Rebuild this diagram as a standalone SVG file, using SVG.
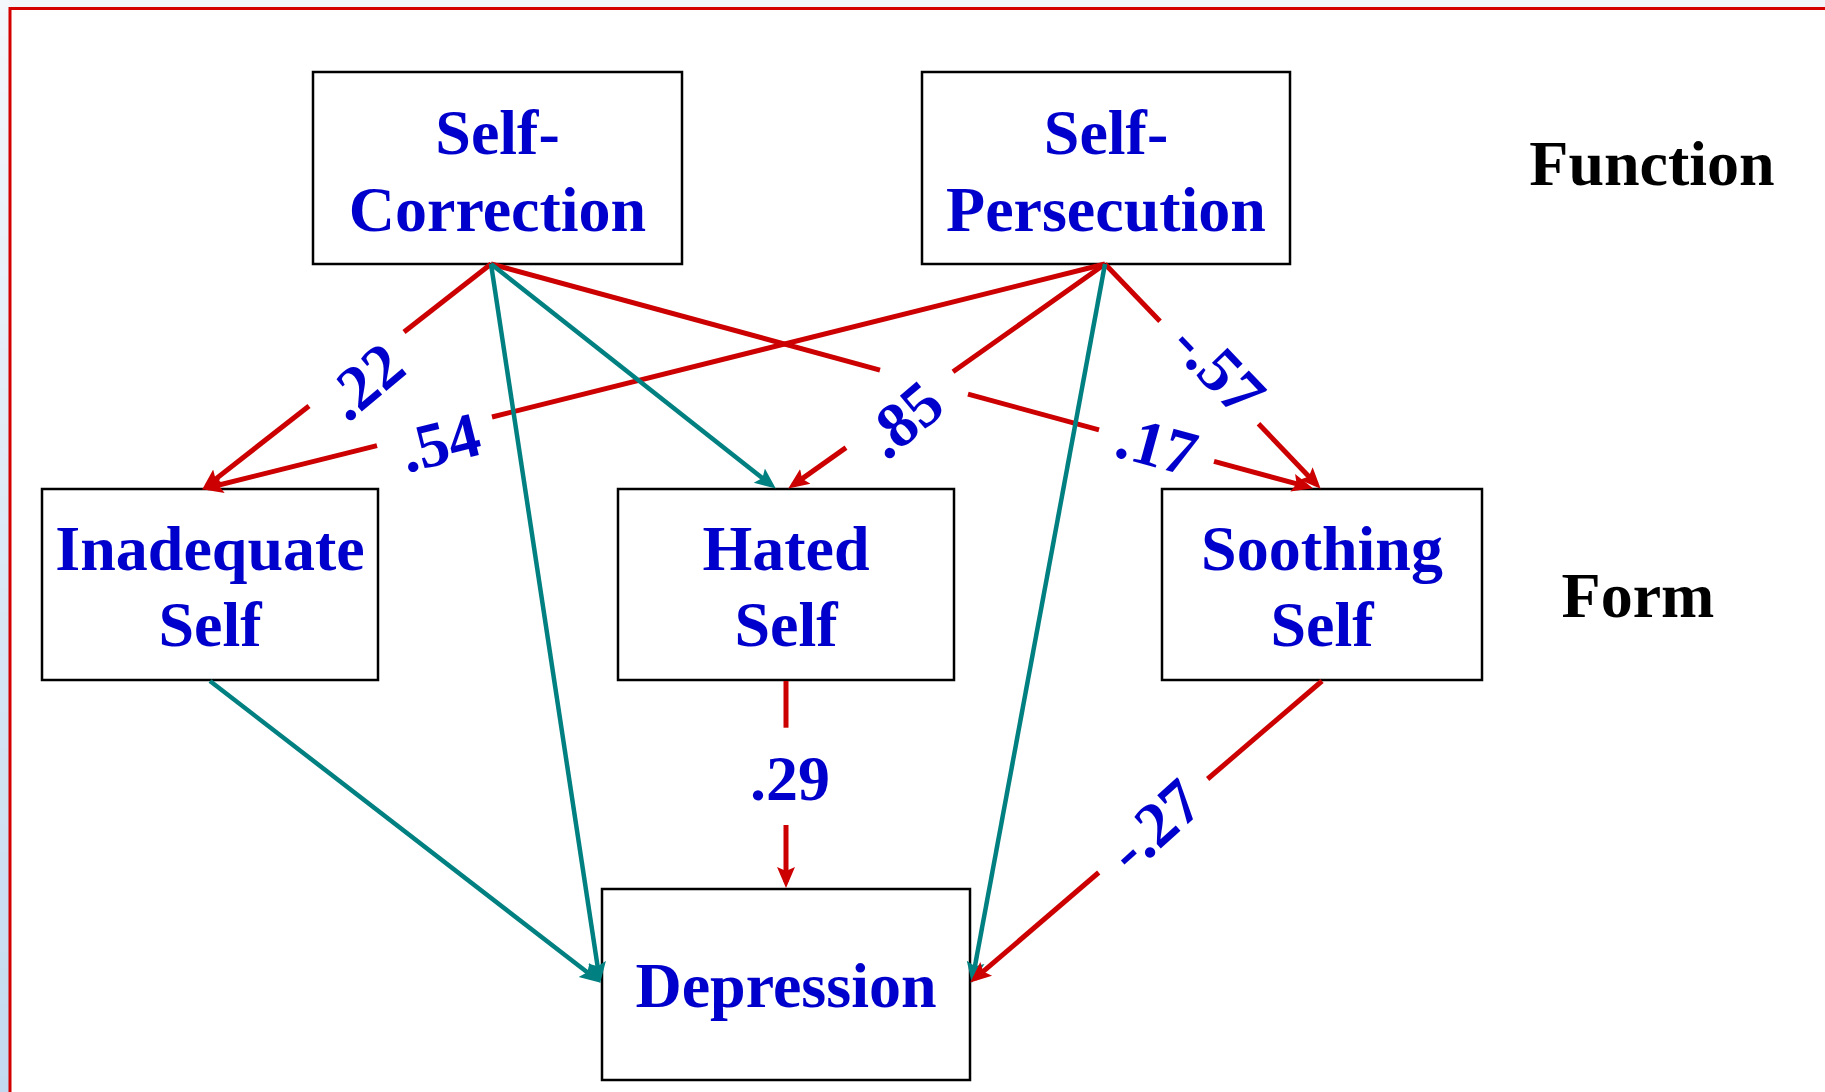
<svg xmlns="http://www.w3.org/2000/svg" width="1825" height="1092" viewBox="0 0 1825 1092">
  <defs>
    <linearGradient id="leftbg" x1="0" y1="0" x2="0" y2="1">
      <stop offset="0" stop-color="#f4f7fb"/>
      <stop offset="1" stop-color="#c3d9ef"/>
    </linearGradient>
    <marker id="arrRed" markerUnits="userSpaceOnUse" markerWidth="24" markerHeight="20" refX="15" refY="9" orient="auto" viewBox="0 0 24 18">
      <path d="M0,0 L21,9 L0,18 L4,9 z" fill="#cc0000"/>
    </marker>
    <marker id="arrTeal" markerUnits="userSpaceOnUse" markerWidth="24" markerHeight="20" refX="15" refY="9" orient="auto" viewBox="0 0 24 18">
      <path d="M0,0 L21,9 L0,18 L4,9 z" fill="#008080"/>
    </marker>
    <style>
      .box { fill: #ffffff; stroke: #000000; stroke-width: 2.5; }
      .nt { font-family: "Liberation Serif", "Times New Roman", serif; font-weight: bold; font-size: 64px; fill: #0000cc; text-anchor: middle; }
      .side { font-family: "Liberation Serif", "Times New Roman", serif; font-weight: bold; font-size: 64px; fill: #000000; text-anchor: middle; }
      .lbl { font-family: "Liberation Serif", "Times New Roman", serif; font-weight: bold; font-size: 64px; fill: #0000cc; text-anchor: middle; }
      .red { stroke: #cc0000; stroke-width: 5; fill: none; }
      .teal { stroke: #008080; stroke-width: 4.5; fill: none; }
    </style>
  </defs>

  <!-- background and frame -->
  <rect x="0" y="0" width="1825" height="1092" fill="#ffffff"/>
  <rect x="0" y="0" width="1825" height="8" fill="#f2f6fa"/>
  <rect x="0" y="0" width="9" height="1092" fill="url(#leftbg)"/>
  <rect x="10" y="8.5" width="1830" height="1100" fill="none" stroke="#d40000" stroke-width="3"/>

  <!-- nodes -->
  <g id="self-correction">
    <rect class="box" x="313" y="72" width="369" height="192"/>
    <text class="nt" x="497.5" y="154">Self-</text>
    <text class="nt" x="497.5" y="231">Correction</text>
  </g>
  <g id="self-persecution">
    <rect class="box" x="922" y="72" width="368" height="192"/>
    <text class="nt" x="1106" y="154">Self-</text>
    <text class="nt" x="1106" y="231">Persecution</text>
  </g>
  <g id="inadequate-self">
    <rect class="box" x="42" y="489" width="336" height="191"/>
    <text class="nt" x="210" y="570">Inadequate</text>
    <text class="nt" x="210" y="646">Self</text>
  </g>
  <g id="hated-self">
    <rect class="box" x="618" y="489" width="336" height="191"/>
    <text class="nt" x="786" y="570">Hated</text>
    <text class="nt" x="786" y="646">Self</text>
  </g>
  <g id="soothing-self">
    <rect class="box" x="1162" y="489" width="320" height="191"/>
    <text class="nt" x="1322" y="570">Soothing</text>
    <text class="nt" x="1322" y="646">Self</text>
  </g>
  <g id="depression">
    <rect class="box" x="602" y="889" width="368" height="191"/>
    <text class="nt" x="786" y="1007">Depression</text>
  </g>
  <g id="function-label">
    <text class="side" x="1652" y="185">Function</text>
  </g>
  <g id="form-label">
    <text class="side" x="1638" y="617">Form</text>
  </g>

  <!-- connectors -->
  <g id="connectors">
    <!-- Self-Correction -> Inadequate Self (.22) -->
    <line class="red" x1="491" y1="264" x2="404" y2="332"/>
    <line class="red" x1="309" y1="406" x2="206.9" y2="485.9" marker-end="url(#arrRed)"/>
    <!-- Self-Persecution -> Inadequate Self (.54) -->
    <line class="red" x1="1105" y1="264" x2="492" y2="417"/>
    <line class="red" x1="377" y1="445.6" x2="207.9" y2="487.8" marker-end="url(#arrRed)"/>
    <!-- Self-Persecution -> Hated Self (.85) -->
    <line class="red" x1="1105" y1="264" x2="953" y2="371.8"/>
    <line class="red" x1="846" y1="447.6" x2="793.1" y2="485.1" marker-end="url(#arrRed)"/>
    <!-- Self-Correction -> Soothing Self (.17) -->
    <line class="red" x1="491" y1="264" x2="880" y2="370.1"/>
    <line class="red" x1="968" y1="394.1" x2="1099" y2="429.9"/>
    <line class="red" x1="1214" y1="461.3" x2="1307.2" y2="486.7" marker-end="url(#arrRed)"/>
    <!-- Self-Persecution -> Soothing Self (-.57) -->
    <line class="red" x1="1105" y1="264" x2="1160" y2="321.3"/>
    <line class="red" x1="1258.5" y1="423.8" x2="1316.5" y2="484.4" marker-end="url(#arrRed)"/>
    <!-- teal paths -->
    <line class="teal" x1="491" y1="264" x2="599.25" y2="977.1" marker-end="url(#arrTeal)"/>
    <line class="teal" x1="491" y1="264" x2="771.1" y2="484.9" marker-end="url(#arrTeal)"/>
    <line class="teal" x1="1105" y1="264" x2="972.9" y2="977.1" marker-end="url(#arrTeal)"/>
    <line class="teal" x1="210" y1="681" x2="596" y2="979" marker-end="url(#arrTeal)"/>
    <!-- Hated Self -> Depression (.29) -->
    <line class="red" x1="786" y1="681" x2="786" y2="727.7"/>
    <line class="red" x1="786" y1="825" x2="786" y2="882" marker-end="url(#arrRed)"/>
    <!-- Soothing Self -> Depression (-.27) -->
    <line class="red" x1="1322" y1="681" x2="1207.6" y2="779"/>
    <line class="red" x1="1098.7" y1="872.5" x2="974.8" y2="978.7" marker-end="url(#arrRed)"/>

    <!-- labels -->
    <text class="lbl" transform="translate(364,381) rotate(-40)" x="0" y="22">.22</text>
    <text class="lbl" transform="translate(440,442) rotate(-14)" x="0" y="22">.54</text>
    <text class="lbl" transform="translate(903,419) rotate(-40)" x="0" y="22">.85</text>
    <text class="lbl" transform="translate(1157,445) rotate(15.3)" x="0" y="22">.17</text>
    <text class="lbl" transform="translate(1219,368) rotate(46.2)" x="0" y="22">-.57</text>
    <text class="lbl" x="790" y="800">.29</text>
    <text class="lbl" transform="translate(1154,825) rotate(-42)" x="0" y="22">-.27</text>
  </g>
</svg>
